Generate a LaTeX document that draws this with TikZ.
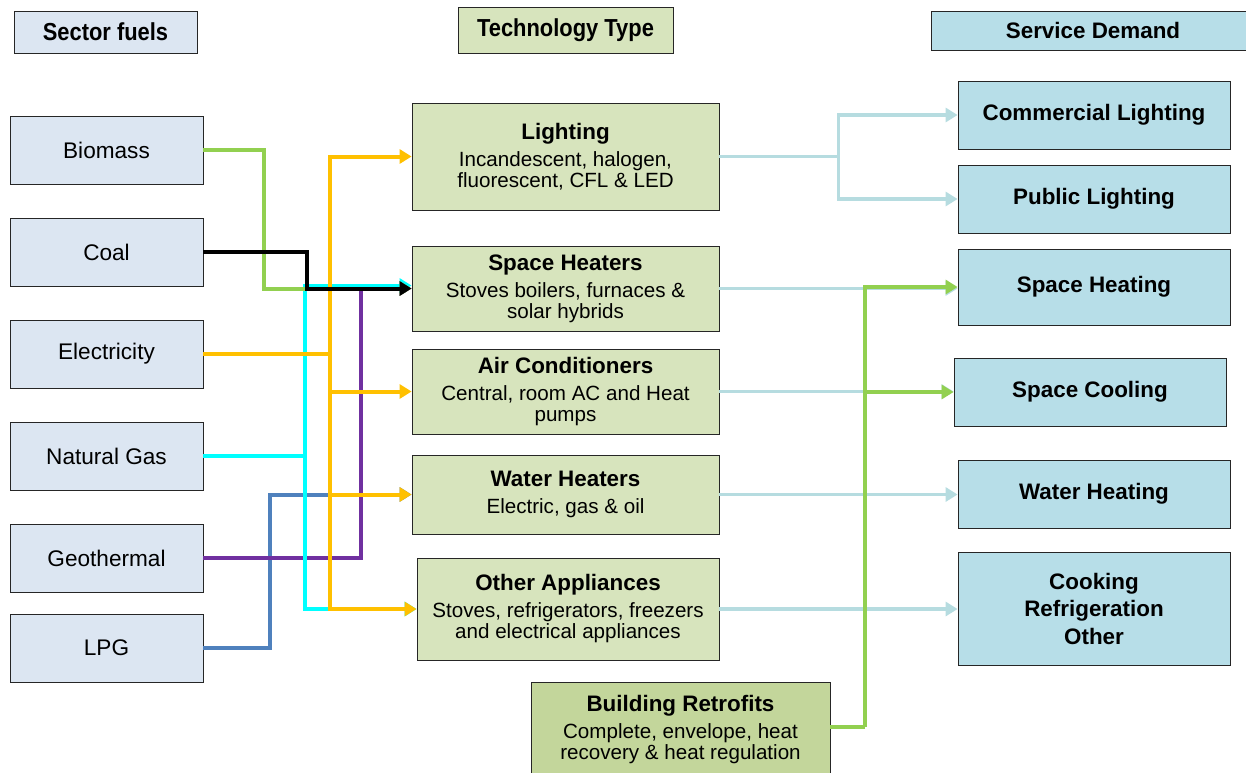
\documentclass[tikz,border=0pt]{standalone}
\usepackage{fontspec}
\setmainfont{Liberation Sans}
\newfontfamily\narrowsf[FakeStretch=0.89]{Liberation Sans}
\usepackage{xcolor}
\usepackage{tikz}
\usetikzlibrary{arrows.meta,positioning,calc}
\definecolor{fuelBlue}{HTML}{DCE6F2}
\definecolor{techGreen}{HTML}{D7E4BD}
\definecolor{retroGreen}{HTML}{C3D69B}
\definecolor{servBlue}{HTML}{B7DEE8}
\definecolor{linkBlue}{HTML}{B6DCE0}
\definecolor{bioGreen}{HTML}{92D050}
\definecolor{elecOrange}{HTML}{FFC000}
\definecolor{gasCyan}{HTML}{00FFFF}
\definecolor{geoPurple}{HTML}{7030A0}
\definecolor{lpgBlue}{HTML}{4F81BD}
\newcommand\techtitle[1]{{\fontsize{11.2}{13}\selectfont\bfseries #1}\\[3pt]}

\begin{document}
\begin{tikzpicture}[x=0.5pt,y=-0.5pt,>={Triangle[length=6pt,width=7pt]},
  head/.style={draw=black!85,inner sep=0pt},
  fuel/.style={draw=black!85,fill=fuelBlue,minimum width=96.5pt,minimum height=34pt,
    font=\fontsize{11.3}{13}\selectfont},
  tech/.style={draw=black!85,fill=techGreen,minimum width=153.5pt,inner sep=0pt,
    align=center,font=\fontsize{10.3}{10.5}\selectfont},
  serv/.style={draw=black!85,fill=servBlue,minimum width=136pt,minimum height=34pt,
    inner sep=0pt,align=center,font=\fontsize{11.2}{13.75}\selectfont\bfseries},
  feed/.style={line width=2pt},
  link/.style={line width=1.75pt,linkBlue,->}]
\useasboundingbox (0,0) rectangle (1246,772);
% column headers
\node[head,fill=fuelBlue,minimum width=91.5pt,minimum height=21pt,
  font=\fontsize{12.3}{14}\narrowsf\bfseries] (hfuel) at (105.5,32) {Sector fuels};
\node[head,fill=techGreen,minimum width=107.5pt,minimum height=23pt,
  font=\fontsize{12.3}{14}\narrowsf\bfseries] (htech) at (565.5,30) {Technology Type};
\node[head,fill=servBlue,minimum width=162pt,minimum height=19.5pt,
  font=\fontsize{11.2}{13}\selectfont\bfseries] (hserv) at (1093,30.5) {Service Demand};
% sector fuels
\node[fuel] (bio) at (106.5,150) {Biomass};
\node[fuel] (coal) at (106.5,252) {Coal};
\node[fuel] (elec) at (106.5,354) {Electricity};
\node[fuel] (gas) at (106.5,456) {Natural Gas};
\node[fuel] (geo) at (106.5,558) {Geothermal};
\node[fuel] (lpg) at (106.5,648) {LPG};
% technology types
\node[tech,minimum height=53.5pt] (light) at (565.5,156.5)
  {\techtitle{Lighting}Incandescent, halogen,\\fluorescent, CFL \& LED};
\node[tech,minimum height=42.5pt] (heat) at (565.5,288.5)
  {\techtitle{Space Heaters}Stoves boilers, furnaces \&\\solar hybrids};
\node[tech,minimum height=42.5pt] (ac) at (565.5,391.5)
  {\techtitle{Air Conditioners}Central, room AC and Heat\\pumps};
\node[tech,minimum height=39.5pt] (water) at (565.5,494.5)
  {\techtitle{Water Heaters}Electric, gas \& oil};
\node[tech,minimum width=151pt,minimum height=51pt] (appl) at (568,609)
  {\techtitle{Other Appliances}Stoves, refrigerators, freezers\\and electrical appliances};
\node[tech,fill=retroGreen,minimum width=149.5pt,minimum height=48pt] (retro) at (680.5,730)
  {\techtitle{Building Retrofits}Complete, envelope, heat\\recovery \& heat regulation};
% service demand
\node[serv] (comm) at (1094,115) {Commercial Lighting};
\node[serv] (publ) at (1094,199) {Public Lighting};
\node[serv,minimum height=38pt] (sheat) at (1094,287) {Space Heating};
\node[serv] (scool) at (1090,392) {Space Cooling};
\node[serv] (wheat) at (1094,494) {Water Heating};
\node[serv,minimum height=56.5pt] (cook) at (1094,608.5) {Cooking\\Refrigeration\\Other};
% fuel feeds
\draw[feed,lpgBlue,->] (lpg.east) -- ++(67,0) |- (water.west);
\draw[feed,geoPurple,->] (geo.east) -- ++(158,0) |- (heat.west);
\draw[feed,gasCyan] (gas.east) -- ++(102,0) coordinate (gj);
\draw[feed,gasCyan,->] (gj) |- ([yshift=1.5pt]heat.west);
\draw[feed,gasCyan,->] (gj) |- (appl.west);
\draw[feed,bioGreen,->] (bio.east) -- ++(61,0) |- (heat.west);
\draw[feed,elecOrange] (elec.east) -- ++(127,0) coordinate (ej);
\foreach \t in {light,ac,water,appl}
  \draw[feed,elecOrange,->] (ej) |- (\t.west);
\draw[feed,black,->] (coal.east) -- ++(104,0) |- (heat.west);
% technology to service
\draw[line width=1.75pt,linkBlue] (light.east) -- ++(119,0) coordinate (lj);
\draw[link] (lj) |- (comm.west);
\draw[link] (lj) |- (publ.west);
\draw[link] (heat.east) -- (heat.east -| sheat.west);
\draw[link] (ac.east) -- (ac.east -| scool.west);
\draw[link] (water.east) -- (water.east -| wheat.west);
\draw[link] (appl.east) -- (appl.east -| cook.west);
% retrofits
\draw[feed,bioGreen] ([yshift=1.5pt]retro.east) -- ++(35,0) coordinate (rj);
\draw[feed,bioGreen,->] (rj) |- (sheat.west);
\draw[feed,bioGreen,->] (rj) |- (scool.west);
\end{tikzpicture}
\end{document}
